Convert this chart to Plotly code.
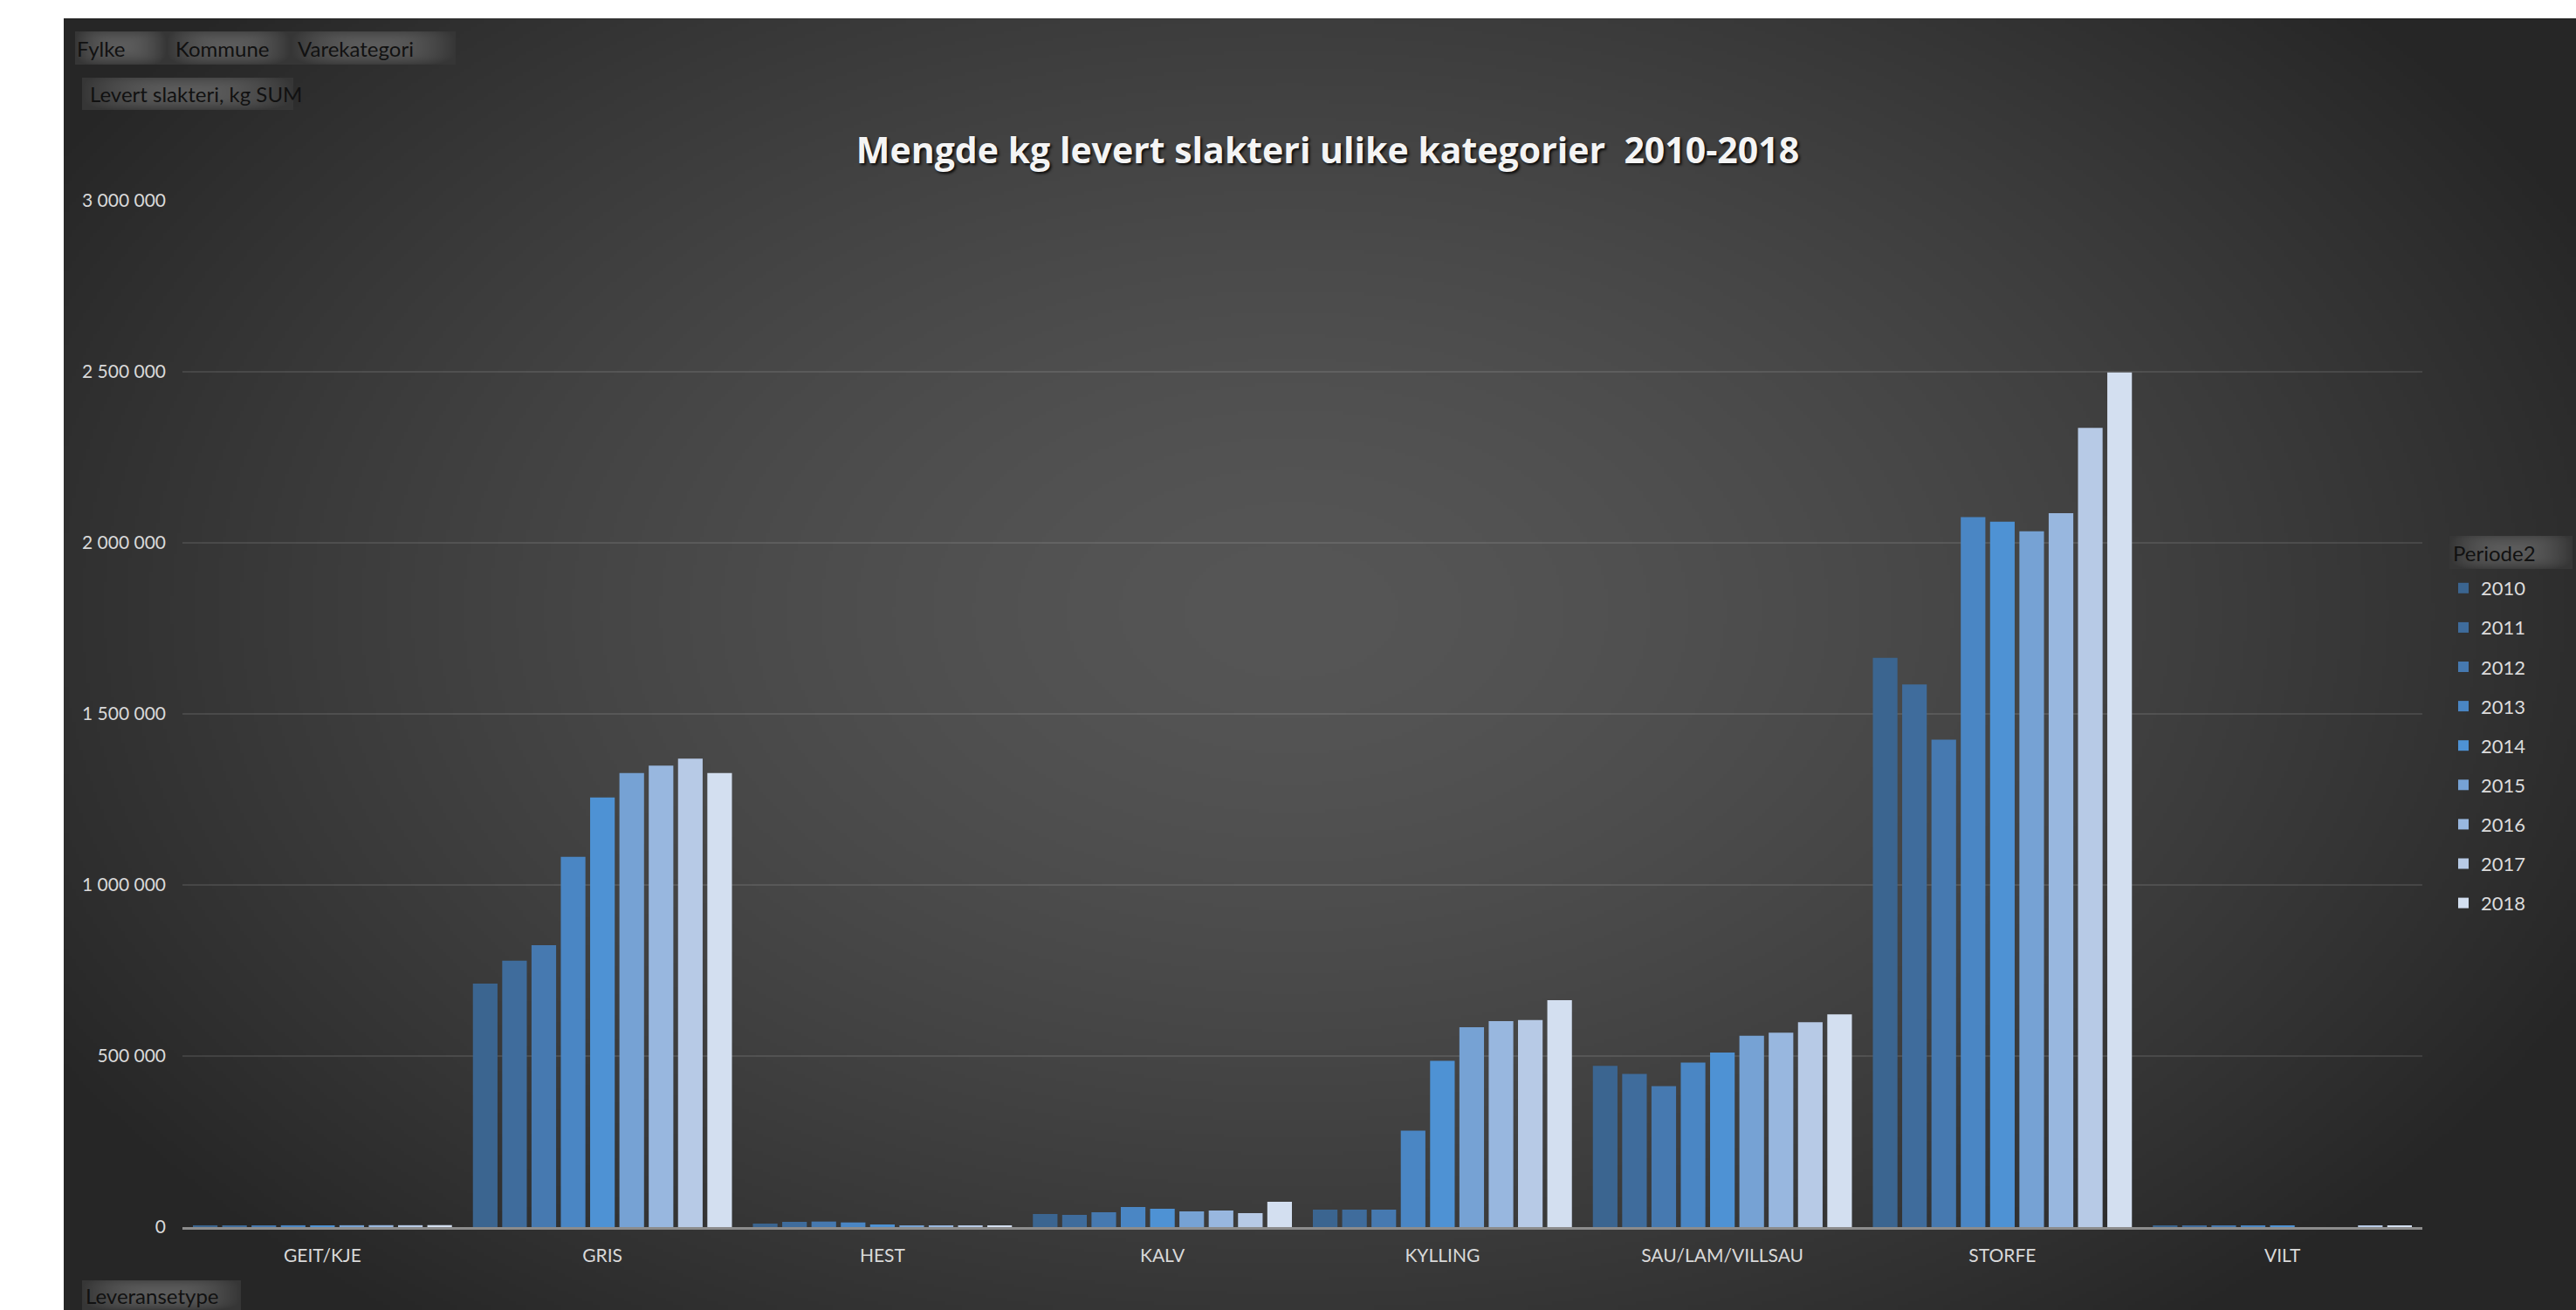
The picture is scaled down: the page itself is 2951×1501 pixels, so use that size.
import base64
import struct
import zlib

import numpy as np
import plotly.graph_objects as go

# ---------------------------------------------------------------- data
categories = ["GEIT/KJE", "GRIS", "HEST", "KALV", "KYLLING",
              "SAU/LAM/VILLSAU", "STORFE", "VILT"]
years = ["2010", "2011", "2012", "2013", "2014", "2015", "2016", "2017", "2018"]

kg_2010 = [5200, 712000, 10200, 38300, 51000, 471000, 1664000, 3000]
kg_2011 = [5000, 779000, 15300, 35700, 51000, 448000, 1586000, 3000]
kg_2012 = [5100, 824000, 16200, 43400, 51000, 412000, 1425000, 3000]
kg_2013 = [5300, 1082000, 13600, 58700, 282000, 481000, 2075000, 3000]
kg_2014 = [5000, 1256000, 7700, 53600, 486000, 510000, 2062000, 3000]
kg_2015 = [5400, 1327000, 5100, 45900, 584000, 559000, 2034000, 0]
kg_2016 = [5600, 1349000, 5100, 48500, 602000, 568000, 2087000, 0]
kg_2017 = [5500, 1369000, 5100, 40800, 605000, 599000, 2336000, 4000]
kg_2018 = [5800, 1327000, 5100, 74000, 663000, 622000, 2498000, 4000]

series = [kg_2010, kg_2011, kg_2012, kg_2013, kg_2014,
          kg_2015, kg_2016, kg_2017, kg_2018]

colors = ["#3b6590", "#3f6c9c", "#4679b0", "#4a86c4", "#4e92d4",
          "#76a2d4", "#98b7df", "#b7cae6", "#d3dff0"]

title_text = "Mengde kg levert slakteri ulike kategorier  2010-2018"
legend_title = "Periode2"

# ---------------------------------------------------------------- geometry
W, H = 2951, 1501
L, R, T, B = 209, 176, 230, 95
PW, PH = W - L - R, H - T - B


def px_x(x):
    return (x - L) / PW


def px_y(y):
    return (H - B - y) / PH


# ---------------------------------------------------------------- png helpers
def png_uri(rgb):
    h, w, _ = rgb.shape
    raw = b"".join(b"\x00" + rgb[i].tobytes() for i in range(h))

    def chunk(tag, data):
        return (struct.pack(">I", len(data)) + tag + data +
                struct.pack(">I", zlib.crc32(tag + data) & 0xFFFFFFFF))

    png = (b"\x89PNG\r\n\x1a\n" +
           chunk(b"IHDR", struct.pack(">IIBBBBB", w, h, 8, 2, 0, 0, 0)) +
           chunk(b"IDAT", zlib.compress(raw, 9)) +
           chunk(b"IEND", b""))
    return "data:image/png;base64," + base64.b64encode(png).decode()


def radial_panel(x0, y0, x1, y1, cx, cy, rx, ry, inner, outer, power, step=4):
    xs = np.arange(x0, x1, step) + step / 2
    ys = np.arange(y0, y1, step) + step / 2
    X, Y = np.meshgrid(xs, ys)
    d = np.clip(np.sqrt(((X - cx) / rx) ** 2 + ((Y - cy) / ry) ** 2), 0, 1)
    v = inner - (inner - outer) * d ** power
    g = np.clip(v, 0, 255).astype(np.uint8)
    return png_uri(np.dstack([g, g, g]))


def button_panel(w, h, inner=92, outer=54):
    xs = np.arange(w) + 0.5
    ys = np.arange(h) + 0.5
    X, Y = np.meshgrid(xs, ys)
    dx = np.abs(X - w / 2) / (w / 2)
    dy = np.abs(Y - h * 0.45) / (h * 0.6)
    d = np.clip((dx ** 4 + dy ** 4) ** 0.25, 0, 1)
    v = inner - (inner - outer) * d ** 2
    g = np.clip(v, 0, 255).astype(np.uint8)
    return png_uri(np.dstack([g, g, g]))


def add_button_image(images, x0, y0, x1, y1):
    images.append(dict(
        source=button_panel(x1 - x0, y1 - y0),
        xref="paper", yref="paper", x=px_x(x0), y=px_y(y0),
        sizex=(x1 - x0) / PW, sizey=(y1 - y0) / PH,
        xanchor="left", yanchor="top", sizing="stretch", layer="below"))


# ---------------------------------------------------------------- figure
fig = go.Figure()

for yr, vals, col in zip(years, series, colors):
    fig.add_trace(go.Bar(
        name=yr, x=categories, y=vals, legendgroup=yr,
        marker=dict(color=col, line=dict(width=0)),
    ))

images = []
# chart panel with radial shading
panel = (73, 21, W, H)
images.append(dict(
    source=radial_panel(*panel, cx=1480, cy=700, rx=1650, ry=1050,
                        inner=86, outer=38, power=1.5),
    xref="paper", yref="paper",
    x=px_x(panel[0]), y=px_y(panel[1]),
    sizex=(panel[2] - panel[0]) / PW, sizey=(panel[3] - panel[1]) / PH,
    xanchor="left", yanchor="top", sizing="stretch", layer="below"))

# pivot field buttons: (box x0, y0, x1, y1, text x, label)
buttons = [
    (86, 36, 191, 74, 86, "Fylke"),
    (191, 36, 333, 74, 199, "Kommune"),
    (333, 36, 522, 74, 339, "Varekategori"),
    (94, 89, 336, 126, 101, "Levert slakteri, kg SUM"),
    (94, 1467, 276, 1501, 96, "Leveransetype"),
    (2806, 614, 2947, 652, 2808, legend_title),
]
annotations = []
for x0, y0, x1, y1, tx, label in buttons:
    add_button_image(images, x0, y0, x1, y1)
    annotations.append(dict(
        text=label, x=px_x(tx), y=px_y((y0 + y1) / 2),
        xref="paper", yref="paper", xanchor="left", yanchor="middle",
        showarrow=False, font=dict(family="Lato", size=24, color="#111111")))

fig.update_layout(
    width=W, height=H,
    margin=dict(l=L, r=R, t=T, b=B, pad=0),
    paper_bgcolor="#ffffff",
    plot_bgcolor="rgba(0,0,0,0)",
    separators=", ",
    barmode="group",
    bargap=0.058,
    bargroupgap=0.16,
    images=images,
    annotations=annotations,
    title=dict(
        text=title_text, xref="container", yref="container",
        x=1521 / W, y=1 - 173 / H, xanchor="center", yanchor="middle",
        font=dict(family="Open Sans", size=41, color="#f4f4f4", weight="bold",
                  shadow="2px 2px 3px rgba(0,0,0,0.85)"),
    ),
    legend=dict(
        x=px_x(2802), y=px_y(653), xanchor="left", yanchor="top",
        xref="paper", yref="paper",
        bgcolor="rgba(0,0,0,0)",
        font=dict(family="Lato", size=22, color="#dcdcdc"),
        tracegroupgap=13.5,
        traceorder="grouped",
        itemwidth=30,
    ),
    font=dict(family="Lato", color="#d9d9d9"),
)

fig.update_xaxes(
    showline=True, linecolor="#8c8c8c", linewidth=3,
    showgrid=False, ticks="", layer="below traces",
    tickfont=dict(family="Lato", size=21, color="#d9d9d9"),
    ticklabelstandoff=12,
)
fig.update_yaxes(
    range=[0, 3000000], tickvals=[0, 500000, 1000000, 1500000,
                                  2000000, 2500000, 3000000],
    tickformat=",d",
    showgrid=True, gridcolor="rgba(255,255,255,0.10)", gridwidth=2,
    zeroline=False, showline=False, ticks="",
    tickfont=dict(family="Lato", size=21, color="#d9d9d9"),
    ticklabelstandoff=18,
)

fig.write_html("out.html")
